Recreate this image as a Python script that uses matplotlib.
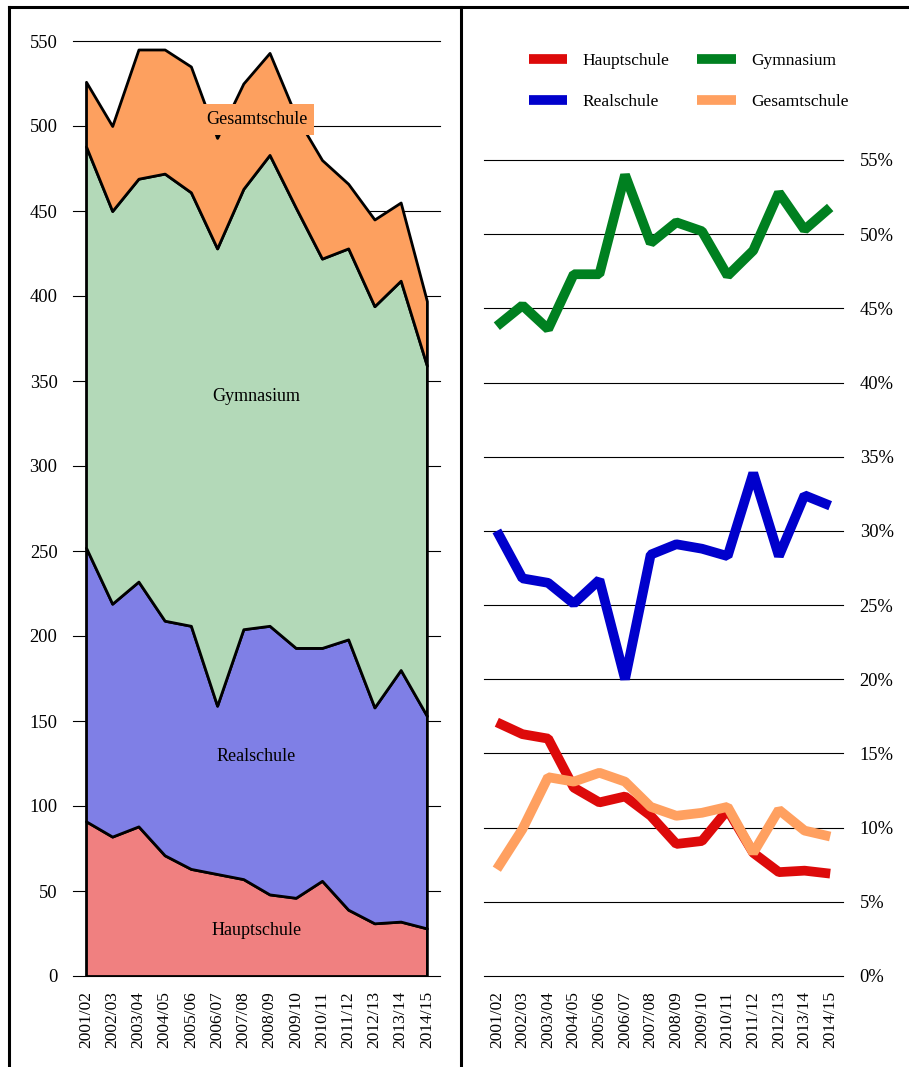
import matplotlib
matplotlib.use('Agg')
import matplotlib.pyplot as plt
from matplotlib.lines import Line2D

plt.rcParams['font.family'] = ['Liberation Serif', 'DejaVu Serif']

# Schuljahre
years = ['2001/02', '2002/03', '2003/04', '2004/05', '2005/06', '2006/07', '2007/08',
         '2008/09', '2009/10', '2010/11', '2011/12', '2012/13', '2013/14', '2014/15']

# Schueler je Schulform (linkes Bild)
hauptschule = [91, 82, 88, 71, 63, 60, 57, 48, 46, 56, 39, 31, 32, 28]
realschule = [161, 137, 144, 138, 143, 99, 147, 158, 147, 137, 159, 127, 148, 125]
gymnasium = [236, 231, 237, 263, 255, 269, 259, 277, 259, 229, 230, 236, 229, 206]
gesamtschule = [38, 50, 76, 73, 74, 65, 62, 60, 54, 58, 38, 51, 46, 38]

# Anteile in % (rechtes Bild)
haupt_pct = [17.1, 16.3, 16.0, 12.7, 11.7, 12.1, 10.8, 8.9, 9.1, 11.2, 8.3, 7.0, 7.1, 6.9]
real_pct = [30.0, 26.8, 26.5, 25.1, 26.7, 20.0, 28.4, 29.1, 28.8, 28.3, 33.9, 28.3, 32.4, 31.7]
gym_pct = [43.8, 45.2, 43.6, 47.3, 47.3, 54.0, 49.4, 50.8, 50.2, 47.2, 48.9, 52.8, 50.3, 51.8]
gesamt_pct = [7.2, 9.9, 13.4, 13.1, 13.7, 13.1, 11.4, 10.8, 11.0, 11.4, 8.3, 11.2, 9.8, 9.4]

names = ['Hauptschule', 'Realschule', 'Gymnasium', 'Gesamtschule']
area_colors = ['#F08080', '#7F7FE6', '#B3D9B8', '#FDA05F']
line_colors = ['#DD0A0A', '#0000CC', '#008020', '#FFA060']

W, H = 909, 1067
fig = plt.figure(figsize=(W / 100, H / 100), dpi=100)
x = list(range(len(years)))

# links: gestapelte Flaechen
ax1 = fig.add_axes([72.9 / W, 91 / H, 367.1 / W, 935 / H])
ax1.stackplot(x, hauptschule, realschule, gymnasium, gesamtschule,
              colors=area_colors, edgecolor='black', linewidth=2.0)
ax1.set_xlim(-0.5, 13.5)
ax1.set_ylim(0, 550)
ax1.set_yticks(range(0, 551, 50))
ax1.grid(axis='y', color='black', linewidth=0.8)
ax1.set_axisbelow(True)
for s in ax1.spines.values():
    s.set_visible(False)
ax1.set_xticks(x)
ax1.set_xticklabels(years, rotation=90)
ax1.tick_params(axis='y', length=0, pad=11, labelsize=13.3)
ax1.tick_params(axis='x', length=0, pad=11, labelsize=12.5)

ax1.text(6.5, 504, 'Gesamtschule', ha='center', va='center', fontsize=13,
         bbox=dict(facecolor=area_colors[3], edgecolor='none', pad=5))
ax1.text(6.5, 341, 'Gymnasium', ha='center', va='center', fontsize=13)
ax1.text(6.5, 129, 'Realschule', ha='center', va='center', fontsize=13)
ax1.text(6.5, 27, 'Hauptschule', ha='center', va='center', fontsize=13)

# rechts: Anteile
ax2 = fig.add_axes([484 / W, 91 / H, 359 / W, 816 / H])
handles = []
for name, vals, col in zip(names, [haupt_pct, real_pct, gym_pct, gesamt_pct], line_colors):
    h, = ax2.plot(x, vals, color=col, linewidth=7, label=name,
                  solid_joinstyle='bevel', solid_capstyle='butt')
    handles.append(h)
ax2.set_xlim(-0.5, 13.5)
ax2.set_ylim(0, 55)
ax2.set_yticks(range(0, 56, 5))
ax2.set_yticklabels([f'{v}%' for v in range(0, 56, 5)])
ax2.yaxis.tick_right()
ax2.grid(axis='y', color='black', linewidth=0.8)
ax2.set_axisbelow(True)
for s in ax2.spines.values():
    s.set_visible(False)
ax2.set_xticks(x)
ax2.set_xticklabels(years, rotation=90)
ax2.tick_params(axis='y', length=0, pad=12, labelsize=13.3)
ax2.tick_params(axis='x', length=0, pad=11, labelsize=12.5)

for ax in (ax1, ax2):
    for gl in ax.yaxis.get_gridlines():
        gl.set_clip_on(False)

fig.legend(handles=handles, ncol=2, loc='upper left',
           bbox_to_anchor=(529 / W, 1 - 53 / H), bbox_transform=fig.transFigure,
           frameon=False, fontsize=12.5, handlelength=2.2, handletextpad=0.9,
           columnspacing=1.6, labelspacing=1.45, borderpad=0, borderaxespad=0)

# Rahmen der beiden Bilder
fig.add_artist(Line2D([8.5 / W, 1], [1 - 7 / H, 1 - 7 / H], transform=fig.transFigure,
                      color='black', linewidth=2.2))
fig.add_artist(Line2D([8.5 / W, 8.5 / W], [0, 1 - 7 / H], transform=fig.transFigure,
                      color='black', linewidth=2.2))
fig.add_artist(Line2D([461 / W, 461 / W], [0, 1 - 7 / H], transform=fig.transFigure,
                      color='black', linewidth=2.2))

fig.savefig('out.png', dpi=100)
